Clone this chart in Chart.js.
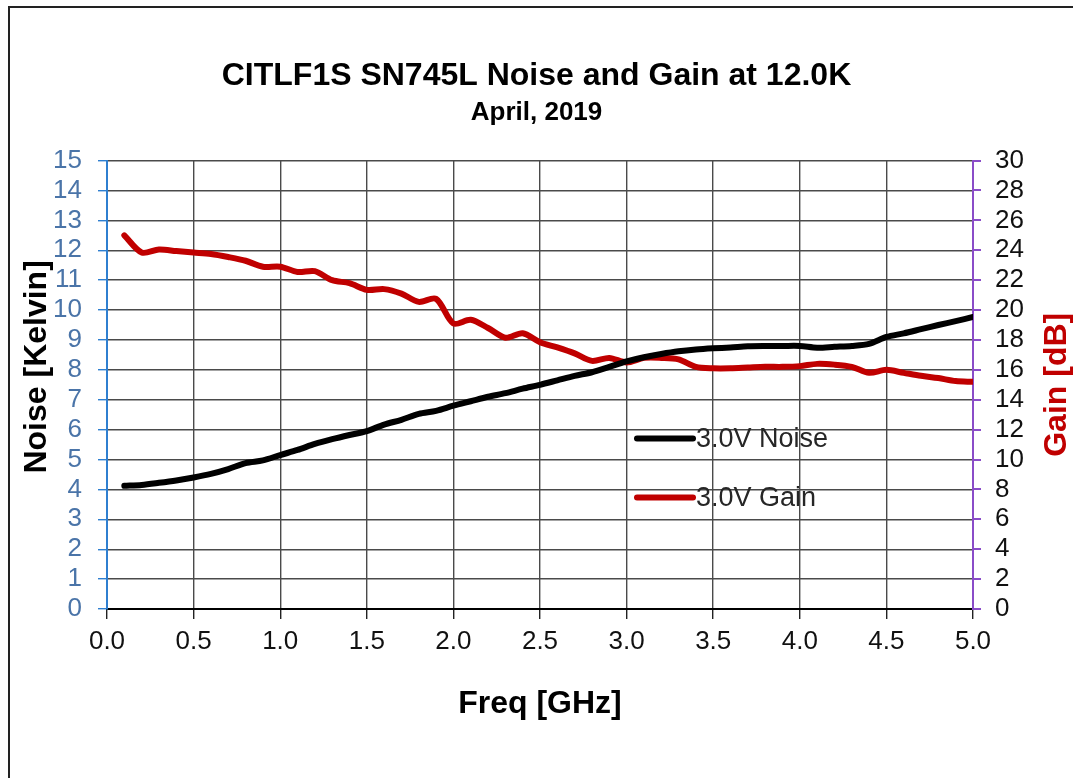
<!DOCTYPE html>
<html>
<head>
<meta charset="utf-8">
<script src="https://cdn.jsdelivr.net/npm/chart.js@4/dist/chart.umd.min.js"></script>
<style>
  html, body { margin: 0; padding: 0; background: #fff; overflow: hidden; }
  #wrap { position: relative; width: 1073px; height: 778px; }
  #frame { position: absolute; left: 8px; top: 6px; width: 1200px; height: 900px; border: 2px solid #222; }
  #c { position: absolute; left: 0; top: 0; }
</style>
</head>
<body>
<div id="wrap">
  <div id="frame"></div>
  <canvas id="c" width="1073" height="778"></canvas>
</div>
<script>
const chartTitle = "CITLF1S SN745L Noise and Gain at 12.0K";
const chartSubtitle = "April, 2019";
const xTitle = "Freq [GHz]";
const yLeftTitle = "Noise [Kelvin]";
const yRightTitle = "Gain [dB]";

const freqGHz = [0.1, 0.2, 0.3, 0.4, 0.5, 0.6, 0.7, 0.8, 0.9, 1.0,
  1.1, 1.2, 1.3, 1.4, 1.5, 1.6, 1.7, 1.8, 1.9, 2.0,
  2.1, 2.2, 2.3, 2.4, 2.5, 2.6, 2.7, 2.8, 2.9, 3.0,
  3.1, 3.2, 3.3, 3.4, 3.5, 3.6, 3.7, 3.8, 3.9, 4.0,
  4.1, 4.2, 4.3, 4.4, 4.5, 4.6, 4.7, 4.8, 4.9, 5.0];

const noiseK = [4.12, 4.15, 4.22, 4.30, 4.40, 4.52, 4.68, 4.88, 4.97, 5.15,
  5.32, 5.52, 5.68, 5.82, 5.95, 6.17, 6.33, 6.53, 6.63, 6.80,
  6.95, 7.10, 7.22, 7.37, 7.50, 7.65, 7.80, 7.92, 8.10, 8.28,
  8.42, 8.53, 8.62, 8.68, 8.72, 8.75, 8.79, 8.80, 8.80, 8.80,
  8.74, 8.77, 8.80, 8.87, 9.10, 9.22, 9.36, 9.50, 9.63, 9.77];

const gainDb = [25.0, 23.85, 24.05, 23.95, 23.85, 23.75, 23.55, 23.3, 22.9, 22.9,
  22.55, 22.6, 22.0, 21.8, 21.35, 21.4, 21.1, 20.55, 20.75, 19.1,
  19.35, 18.8, 18.15, 18.45, 17.85, 17.5, 17.1, 16.6, 16.8, 16.5,
  16.8, 16.8, 16.7, 16.2, 16.1, 16.1, 16.15, 16.2, 16.2, 16.25,
  16.4, 16.35, 16.2, 15.8, 16.0, 15.8, 15.6, 15.45, 15.25, 15.2];

const seriesLabels = ["3.0V Noise", "3.0V Gain"];
const seriesColors = ["#000000", "#c00000"];

const blueAxis = "#2f7fd0";
const blueText = "#4a74a8";
const purpleAxis = "#8a4cc8";
const gridColor = "#4a4a4a";
const FONT = "'Liberation Sans', Arial, sans-serif";

// legend sits inside the plot, drawn by hand like the excel one
// axis titles drawn here too: excel puts them off-centre / bottom-to-top on the right
const insideLegend = {
  id: "insideLegend",
  afterDatasetsDraw(chart) {
    const ctx = chart.ctx;
    const x0 = chart.scales.x.getPixelForValue(3.06);
    const rows = [chart.scales.y.getPixelForValue(5.7), chart.scales.y.getPixelForValue(3.73)];
    ctx.save();
    chart.data.datasets.forEach((ds, i) => {
      const y = rows[i];
      ctx.strokeStyle = ds.borderColor;
      ctx.lineWidth = 6;
      ctx.lineCap = "round";
      ctx.beginPath();
      ctx.moveTo(x0, y);
      ctx.lineTo(x0 + 56, y);
      ctx.stroke();
      ctx.fillStyle = "#262626";
      ctx.font = "27px " + FONT;
      ctx.textBaseline = "middle";
      ctx.textAlign = "left";
      ctx.fillText(ds.label, x0 + 59, y + 1);
    });
    ctx.restore();

    ctx.save();
    ctx.translate(37, chart.scales.y.getPixelForValue(8.1));
    ctx.rotate(-Math.PI / 2);
    ctx.fillStyle = "#000";
    ctx.font = "bold 32px " + FONT;
    ctx.textAlign = "center";
    ctx.textBaseline = "middle";
    ctx.fillText(yLeftTitle, 0, 0);
    ctx.restore();

    ctx.save();
    ctx.translate(1057, (chart.chartArea.top + chart.chartArea.bottom) / 2);
    ctx.rotate(-Math.PI / 2);
    ctx.fillStyle = "#c00000";
    ctx.font = "bold 32px " + FONT;
    ctx.textAlign = "center";
    ctx.textBaseline = "middle";
    ctx.fillText(yRightTitle, 0, 0);
    ctx.restore();
  }
};

new Chart(document.getElementById("c"), {
  type: "line",
  data: {
    labels: freqGHz,
    datasets: [
      {
        label: seriesLabels[0],
        data: freqGHz.map((f, i) => ({ x: f, y: noiseK[i] })),
        borderColor: seriesColors[0],
        borderWidth: 6,
        pointRadius: 0,
        tension: 0.3,
        borderCapStyle: "round",
        yAxisID: "y"
      },
      {
        label: seriesLabels[1],
        data: freqGHz.map((f, i) => ({ x: f, y: gainDb[i] })),
        borderColor: seriesColors[1],
        borderWidth: 6,
        pointRadius: 0,
        tension: 0.3,
        borderCapStyle: "round",
        yAxisID: "y2"
      }
    ]
  },
  options: {
    responsive: false,
    animation: false,
    layout: { padding: 0 },
    plugins: {
      legend: { display: false },
      tooltip: { enabled: false },
      title: {
        display: true,
        text: chartTitle,
        color: "#000",
        font: { family: FONT, size: 32, weight: "bold", lineHeight: 1.2 },
        padding: { top: 57, bottom: 0 }
      },
      subtitle: {
        display: true,
        text: chartSubtitle,
        color: "#000",
        font: { family: FONT, size: 26, weight: "bold", lineHeight: 1.2 },
        padding: { top: 2, bottom: 32 }
      }
    },
    scales: {
      x: {
        type: "linear",
        min: 0,
        max: 5,
        afterFit(s) { s.height = 169; },
        ticks: {
          stepSize: 0.5,
          autoSkip: false,
          color: "#111",
          font: { family: FONT, size: 26 },
          padding: 7,
          maxRotation: 0,
          callback: (v) => v.toFixed(1)
        },
        grid: {
          color: (c) => c.tick && c.tick.value === 0 ? blueAxis : (c.tick && c.tick.value === 5 ? purpleAxis : gridColor),
          tickColor: "#222",
          lineWidth: 1.4,
          tickLength: 10
        },
        border: { color: "#000", width: 2 },
        title: {
          display: true,
          text: xTitle,
          color: "#000",
          font: { family: FONT, size: 32, weight: "bold", lineHeight: 1 },
          padding: { top: 0, bottom: 58 }
        }
      },
      y: {
        position: "left",
        min: 0,
        max: 15,
        afterFit(s) { s.width = 107; },
        ticks: {
          stepSize: 1,
          autoSkip: false,
          color: blueText,
          font: { family: FONT, size: 26 },
          padding: 16
        },
        grid: {
          color: gridColor,
          tickColor: blueAxis,
          lineWidth: 1.4,
          tickLength: 9
        },
        border: { color: blueAxis, width: 2 }
      },
      y2: {
        position: "right",
        min: 0,
        max: 30,
        afterFit(s) { s.width = 100; },
        ticks: {
          stepSize: 2,
          autoSkip: false,
          color: "#111",
          font: { family: FONT, size: 26 },
          padding: 14
        },
        grid: {
          drawOnChartArea: false,
          tickColor: purpleAxis,
          lineWidth: 2,
          tickLength: 8
        },
        border: { color: purpleAxis, width: 2 }
      }
    }
  },
  plugins: [insideLegend]
});
</script>
</body>
</html>
